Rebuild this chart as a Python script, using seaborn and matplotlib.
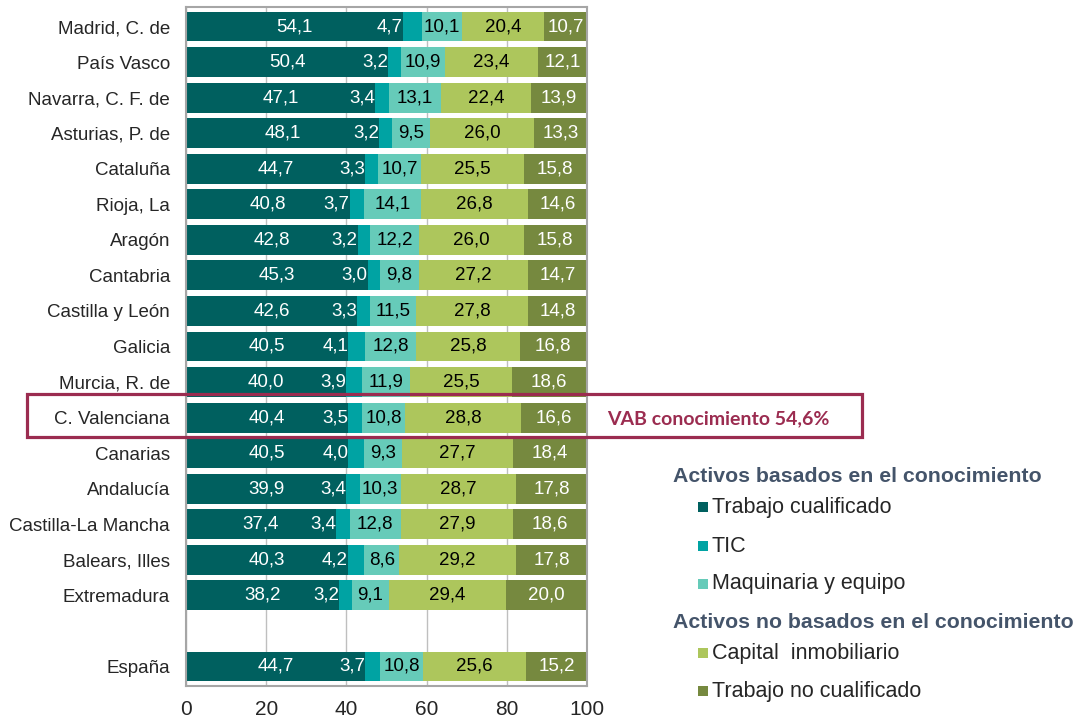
import numpy as np
import pandas as pd
import matplotlib
matplotlib.use("Agg")
import matplotlib.pyplot as plt
from matplotlib.patches import Rectangle
import seaborn as sns

regions = ["Madrid, C. de", "País Vasco", "Navarra, C. F. de", "Asturias, P. de", "Cataluña",
           "Rioja, La", "Aragón", "Cantabria", "Castilla y León", "Galicia", "Murcia, R. de",
           "C. Valenciana", "Canarias", "Andalucía", "Castilla-La Mancha", "Balears, Illes",
           "Extremadura", "España"]
trabajo_cualificado = [54.1, 50.4, 47.1, 48.1, 44.7, 40.8, 42.8, 45.3, 42.6, 40.5, 40.0,
                       40.4, 40.5, 39.9, 37.4, 40.3, 38.2, 44.7]
tic = [4.7, 3.2, 3.4, 3.2, 3.3, 3.7, 3.2, 3.0, 3.3, 4.1, 3.9, 3.5, 4.0, 3.4, 3.4, 4.2, 3.2, 3.7]
maquinaria = [10.1, 10.9, 13.1, 9.5, 10.7, 14.1, 12.2, 9.8, 11.5, 12.8, 11.9, 10.8, 9.3, 10.3,
              12.8, 8.6, 9.1, 10.8]
capital_inmobiliario = [20.4, 23.4, 22.4, 26.0, 25.5, 26.8, 26.0, 27.2, 27.8, 25.8, 25.5, 28.8,
                        27.7, 28.7, 27.9, 29.2, 29.4, 25.6]
trabajo_no_cualificado = [10.7, 12.1, 13.9, 13.3, 15.8, 14.6, 15.8, 14.7, 14.8, 16.8, 18.6, 16.6,
                          18.4, 17.8, 18.6, 17.8, 20.0, 15.2]
series_names = ["Trabajo cualificado", "TIC", "Maquinaria y equipo", "Capital  inmobiliario",
                "Trabajo no cualificado"]
group_titles = ["Activos basados en el conocimiento", "Activos no basados en el conocimiento"]
highlight_region = "C. Valenciana"
highlight_text = "VAB conocimiento 54,6%"
x_ticks = [0, 20, 40, 60, 80, 100]

colors = ["#00605F", "#00A3A3", "#66CBB9", "#ADC65C", "#76893F"]
label_colors = ["white", "white", "black", "black", "white"]

order = regions[:-1] + [" "] + [regions[-1]]
df = pd.DataFrame({"region": regions,
                   series_names[0]: trabajo_cualificado,
                   series_names[1]: tic,
                   series_names[2]: maquinaria,
                   series_names[3]: capital_inmobiliario,
                   series_names[4]: trabajo_no_cualificado})
cum = df[series_names].cumsum(axis=1)

sns.set_theme(style="white")
plt.rcParams["font.family"] = "sans-serif"
plt.rcParams["font.sans-serif"] = ["Liberation Sans", "DejaVu Sans"]
BASE = ["Liberation Sans", "DejaVu Sans"]

W, H = 1077, 722
fig = plt.figure(figsize=(W / 100, H / 100), dpi=100)
ax = fig.add_axes([186 / W, 1 - 686 / H, 401 / W, 679 / H])

for i in reversed(range(len(series_names))):
    sns.barplot(x=cum[series_names[i]], y=df["region"], order=order, orient="h",
                color=colors[i], saturation=1, width=0.84, errorbar=None,
                linewidth=0, ax=ax)

fmt = lambda v: f"{v:.1f}".replace(".", ",")
for r, region in enumerate(regions):
    y = order.index(region)
    start = 0.0
    for i, name in enumerate(series_names):
        v = df[name].iloc[r]
        if i == 1:
            ax.text(start, y, fmt(v), ha="right", va="center", color=label_colors[i],
                    fontsize=13.5, family=BASE)
        else:
            ax.text(start + v / 2, y, fmt(v), ha="center", va="center", color=label_colors[i],
                    fontsize=13.5, family=BASE)
        start += v

ax.set_xlim(0, 100)
ax.set_ylim(len(order) - 0.45, -0.55)
ax.set_xticks(x_ticks)
ax.set_xticklabels([str(t) for t in x_ticks], fontsize=15, family=BASE)
ax.set_yticks(range(len(order)))
ax.set_yticklabels(order, fontsize=13.5, family=BASE)
ax.tick_params(axis="x", length=0, pad=10)
ax.tick_params(axis="y", length=0, pad=11.5)
ax.set_xlabel("")
ax.set_ylabel("")
ax.xaxis.grid(True, color="#BFBFBF", lw=1)
ax.yaxis.grid(False)
ax.set_axisbelow(True)
for s in ax.spines.values():
    s.set_color("#A6A6A6")
    s.set_linewidth(1.5)

def fx(px):
    return px / W
def fy(py):
    return 1 - py / H

hl = "#9B2C50"
fig.patches.append(Rectangle((fx(27), fy(437)), fx(862) - fx(27), fy(394) - fy(437),
                             transform=fig.transFigure, fill=False, edgecolor=hl, lw=2.3))
fig.text(fx(607), fy(419), highlight_text, color=hl, fontsize=14, fontweight="bold",
         family=["Lato", "DejaVu Sans"], ha="left", va="center")

title_color = "#44546A"
fig.text(fx(673), fy(476), group_titles[0], color=title_color, fontsize=15.3, fontweight="bold",
         ha="left", va="center", family=BASE)
fig.text(fx(673), fy(622), group_titles[1], color=title_color, fontsize=15.3, fontweight="bold",
         ha="left", va="center", family=BASE)
item_y = [507, 546, 584, 653, 691]
for i, name in enumerate(series_names):
    yy = item_y[i]
    fig.patches.append(Rectangle((fx(698), fy(yy + 5)), fx(10), 10 / H,
                                 transform=fig.transFigure, facecolor=colors[i], edgecolor="none"))
    fig.text(fx(712), fy(yy), name, color="#262626", fontsize=15.5, ha="left", va="center",
             family=BASE)

fig.savefig("out.png", dpi=100)
